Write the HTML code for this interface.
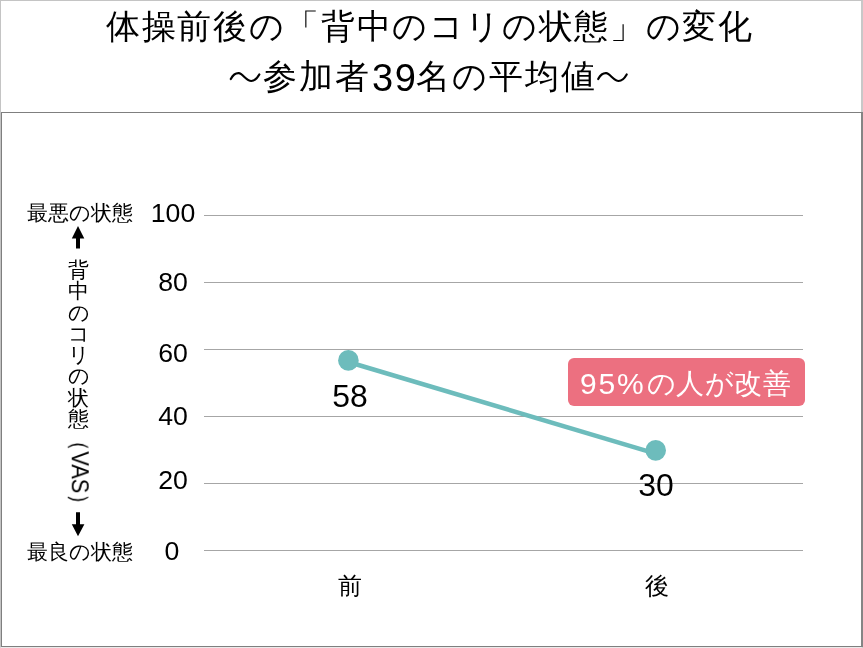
<!DOCTYPE html>
<html lang="ja">
<head>
<meta charset="utf-8">
<style>
html,body{margin:0;padding:0;background:#fff;}
body{width:863px;height:648px;position:relative;overflow:hidden;font-family:"Liberation Sans",sans-serif;color:#000;}
.frame{position:absolute;left:0;top:0;width:860px;height:646px;border:1px solid #c4c4c4;border-right:2px solid #c8c8c8;border-bottom-color:#ebebeb;}
.box{position:absolute;left:1px;top:112px;width:859px;height:533px;border:1px solid #7f7f7f;border-right:2px solid #858585;}
.t{position:absolute;white-space:nowrap;line-height:1;will-change:transform;}
.h1{font-size:34px;letter-spacing:1.65px;}
.h2{font-size:34px;letter-spacing:2px;}
.h2n{font-size:38px;letter-spacing:1.6px;}
.tick{width:60px;text-align:center;font-size:25.4px;transform:scaleX(1.05);}
.side{font-size:21px;}
.vcol{position:absolute;width:21px;font-size:21px;will-change:transform;}
.vcol span{display:block;height:21.3px;line-height:21.3px;text-align:center;}
.rot{font-size:23.5px;transform-origin:0 0;transform:rotate(90deg) translate(0,-50%) scaleX(0.93);}
.xl{font-size:24px;width:60px;text-align:center;}
.dl{font-size:31px;width:80px;text-align:center;transform:scaleX(1.03);}
.badge{position:absolute;left:568px;top:358px;width:237px;height:48px;background:#ec7080;border-radius:6px;}
.bt{color:#fff;font-size:28px;letter-spacing:0.4px;}
.btn{color:#fff;font-size:30px;letter-spacing:1.8px;}
svg{position:absolute;left:0;top:0;}
</style>
</head>
<body>
<div class="frame"></div>
<div class="box"></div>

<div class="t h1" style="left:105.5px;top:9px">体操前後の「背中のコリの状態」の変化</div>
<div class="t h2" style="left:263px;top:59px">参加者</div>
<div class="t h2n" style="left:372px;top:59px">39</div>
<div class="t h2" style="left:416px;top:59px">名の平均値</div>

<svg width="863" height="648" viewBox="0 0 863 648">
  <g fill="none" stroke="#000" stroke-width="2.2" stroke-linecap="round">
    <path d="M230.8 79 C233 75, 235.5 73, 238.8 73.2 C242.5 73.5, 246.5 81, 251.3 81 C254.8 81, 257.3 78, 259.3 74.5"/>
    <path d="M598.2 79 C600.4 75, 602.9 73, 606.2 73.2 C609.9 73.5, 613.9 81, 618.7 81 C622.2 81, 624.7 78, 626.7 74.5"/>
  </g>
  <g stroke="#a6a6a6" stroke-width="1">
    <line x1="204" y1="215.5" x2="803" y2="215.5"/>
    <line x1="204" y1="282.5" x2="803" y2="282.5"/>
    <line x1="204" y1="349.5" x2="803" y2="349.5"/>
    <line x1="204" y1="416.5" x2="803" y2="416.5"/>
    <line x1="204" y1="483.5" x2="803" y2="483.5"/>
    <line x1="204" y1="550.5" x2="803" y2="550.5"/>
  </g>
  <line x1="348.4" y1="362" x2="655.7" y2="453.6" stroke="#6dbcbc" stroke-width="4.5"/>
  <circle cx="348.4" cy="360.4" r="10.3" fill="#6dbcbc"/>
  <circle cx="655.7" cy="450.4" r="10.3" fill="#6dbcbc"/>
  <path d="M78 226 L84.3 238.5 L80 238.5 L80 248.5 L76 248.5 L76 238.5 L71.8 238.5 Z" fill="#000"/>
  <path d="M78 536.2 L84.4 524.3 L80 524.3 L80 512.2 L76 512.2 L76 524.3 L71.8 524.3 Z" fill="#000"/>
</svg>

<div class="t tick" style="left:143px;top:201px">100</div>
<div class="t tick" style="left:143px;top:270px">80</div>
<div class="t tick" style="left:143px;top:341px">60</div>
<div class="t tick" style="left:143px;top:404px">40</div>
<div class="t tick" style="left:143px;top:468px">20</div>
<div class="t tick" style="left:142px;top:539px">0</div>

<div class="t side" style="left:27px;top:202px">最悪の状態</div>
<div class="t side" style="left:27px;top:541px">最良の状態</div>
<div class="vcol" style="left:68px;top:259px"><span>背</span><span>中</span><span>の</span><span>コ</span><span>リ</span><span>の</span><span>状</span><span>態</span></div>
<div class="t rot" style="left:78.5px;top:429px">（VAS）</div>

<div class="t xl" style="left:320px;top:574px">前</div>
<div class="t xl" style="left:626.5px;top:574px">後</div>

<div class="t dl" style="left:309.5px;top:381px">58</div>
<div class="t dl" style="left:616px;top:470px">30</div>

<div class="badge"></div>
<div class="t btn" style="left:580px;top:369px">95%</div>
<div class="t bt" style="left:647px;top:370px">の人が改善</div>
</body>
</html>
